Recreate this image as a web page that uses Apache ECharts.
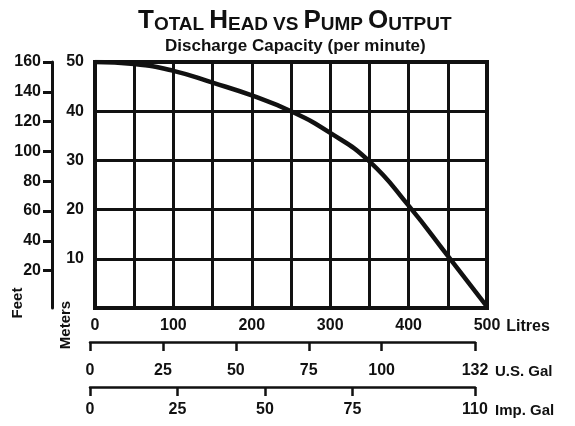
<!DOCTYPE html>
<html>
<head>
<meta charset="utf-8">
<script src="https://cdn.jsdelivr.net/npm/echarts@6/dist/echarts.min.js"></script>
<style>
html,body{margin:0;padding:0;background:#fff;}
#chart{width:575px;height:426px;}
</style>
</head>
<body>
<div id="chart"></div>
<script>
// ---- data ----
var litres = [0, 50, 100, 150, 200, 250, 300, 350, 400, 450, 500];
var headMeters = [50, 49.6, 48.2, 45.8, 43.2, 40.0, 35.6, 29.8, 20.8, 10.6, 0.3];
var litresTicks = [0, 100, 200, 300, 400, 500];
var meterTicks = [10, 20, 30, 40, 50];
var feetTicks = [20, 40, 60, 80, 100, 120, 140, 160];
var usGalTicks = [0, 25, 50, 75, 100, 132];
var impGalTicks = [0, 25, 50, 75, 110];

var FONT = '"Liberation Sans", Arial, sans-serif';
var INK = '#111';

var chart = echarts.init(document.getElementById('chart'), null, {renderer: 'canvas'});

var pts = litres.map(function (l, i) { return [l, headMeters[i]]; });

function galAxis(gridIndex, max, ticks, name, margin) {
  return {
    type: 'value', gridIndex: gridIndex, min: 0, max: max,
    position: 'bottom',
    name: name, nameLocation: 'end', nameGap: 20,
    nameTextStyle: {color: INK, fontFamily: FONT, fontWeight: 'bold', fontSize: 15,
      verticalAlign: 'top', padding: [margin + 1, 0, 0, 0]},
    axisLine: {show: true, lineStyle: {color: INK, width: 2.5}},
    axisTick: {show: true, customValues: ticks, length: 9, lineStyle: {color: INK, width: 2.5}},
    axisLabel: {show: true, customValues: ticks, margin: margin, color: INK,
      fontFamily: FONT, fontWeight: 'bold', fontSize: 16},
    splitLine: {show: false}
  };
}
function hiddenY(gridIndex) {
  return {type: 'value', gridIndex: gridIndex, min: 0, max: 1, show: false,
    axisLine: {show: false}, axisTick: {show: false}, axisLabel: {show: false}, splitLine: {show: false}};
}

var option = {
  backgroundColor: '#fff',
  animation: false,
  title: [
    {
      left: 133, top: 3,
      text: '{a|T}{b|OTAL} {a|H}{b|EAD} {b|VS} {a|P}{b|UMP} {a|O}{b|UTPUT}',
      textStyle: {
        rich: {
          a: {fontFamily: FONT, fontWeight: 'bold', fontSize: 26, color: INK, verticalAlign: 'bottom', lineHeight: 26},
          b: {fontFamily: FONT, fontWeight: 'bold', fontSize: 19, color: INK, verticalAlign: 'bottom', lineHeight: 26}
        }
      }
    },
    {
      left: 160, top: 33,
      text: 'Discharge Capacity (per minute)',
      textStyle: {fontFamily: FONT, fontWeight: 'bold', fontSize: 17, color: INK}
    }
  ],
  grid: [
    {left: 95, right: 88, top: 62, bottom: 118, show: true, borderColor: INK, borderWidth: 4, backgroundColor: '#fff'},
    {left: 90, right: 100, top: 341, height: 1},
    {left: 90, right: 100, top: 386, height: 1}
  ],
  xAxis: [
    {
      type: 'value', gridIndex: 0, min: 0, max: 500, interval: 50,
      name: 'Litres', nameLocation: 'end', nameGap: 18,
      nameTextStyle: {color: INK, fontFamily: FONT, fontWeight: 'bold', fontSize: 16,
        verticalAlign: 'top', padding: [11, 0, 0, 0]},
      axisLine: {show: false},
      axisTick: {show: false},
      axisLabel: {customValues: litresTicks, margin: 10, color: INK, fontFamily: FONT, fontWeight: 'bold', fontSize: 16},
      splitLine: {show: true, lineStyle: {color: INK, width: 3}}
    },
    galAxis(1, 132, usGalTicks, 'U.S. Gal', 21),
    galAxis(2, 110, impGalTicks, 'Imp. Gal', 15)
  ],
  yAxis: [
    {
      type: 'value', gridIndex: 0, min: 0, max: 50, interval: 10,
      axisLine: {show: false},
      axisTick: {show: false},
      axisLabel: {customValues: meterTicks, margin: 11, color: INK, fontFamily: FONT, fontWeight: 'bold', fontSize: 16},
      splitLine: {show: true, lineStyle: {color: INK, width: 3}}
    },
    {
      type: 'value', gridIndex: 0, min: -5, max: 160, position: 'left', offset: 43,
      axisLine: {show: true, lineStyle: {color: INK, width: 3}},
      axisTick: {show: true, customValues: feetTicks, length: 9, lineStyle: {color: INK, width: 3}},
      axisLabel: {customValues: feetTicks, margin: 11, color: INK, fontFamily: FONT, fontWeight: 'bold', fontSize: 16},
      splitLine: {show: false}
    },
    hiddenY(1),
    hiddenY(2)
  ],
  graphic: [
    {type: 'text', x: 18, y: 303, rotation: Math.PI / 2,
      style: {text: 'Feet', fill: INK, font: 'bold 15px ' + FONT, align: 'center', verticalAlign: 'middle'}},
    {type: 'text', x: 66, y: 325, rotation: Math.PI / 2,
      style: {text: 'Meters', fill: INK, font: 'bold 15px ' + FONT, align: 'center', verticalAlign: 'middle'}}
  ],
  series: [
    {
      type: 'line', xAxisIndex: 0, yAxisIndex: 0,
      data: pts, smooth: 0.5, showSymbol: false, symbol: 'none',
      lineStyle: {color: INK, width: 4.5}, z: 5
    }
  ]
};
chart.setOption(option);
</script>
</body>
</html>
